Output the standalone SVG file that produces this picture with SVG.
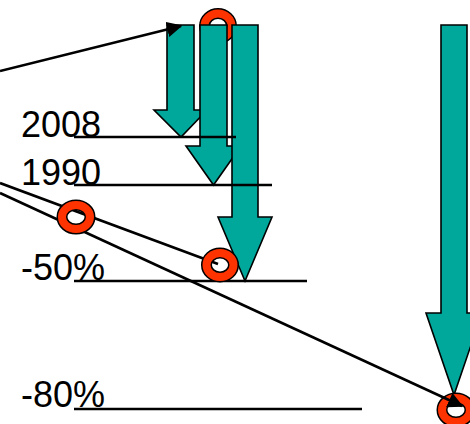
<svg xmlns="http://www.w3.org/2000/svg" width="470" height="424" viewBox="0 0 470 424">
<defs>
<marker id="ah" viewBox="0 0 10 10" refX="9" refY="5" markerWidth="6" markerHeight="6" orient="auto" markerUnits="strokeWidth">
<path d="M0,0 L10,5 L0,10 Z" fill="#000"/>
</marker>
</defs>
<style>
.arr{fill:#00A89C;stroke:#000;stroke-width:1.6;stroke-linejoin:miter}
.ringo{fill:none;stroke:#000;stroke-width:11}
.ringi{fill:none;stroke:#FF3300;stroke-width:8}
.ln{stroke:#000;stroke-width:2.6;fill:none}
.lbl{font-family:"Liberation Sans",Arial,sans-serif;font-size:36px;fill:#000}
</style>
<rect width="470" height="424" fill="#fff"/>
<g id="labels">
<text class="lbl" x="21" y="137">2008</text>
<text class="lbl" x="21" y="185">1990</text>
<text class="lbl" x="21" y="280">-50%</text>
<text class="lbl" x="21" y="407">-80%</text>
</g>
<g id="ring-top">
<ellipse class="ringo" cx="218" cy="26" rx="13.5" ry="12.5"/>
<ellipse class="ringi" cx="218" cy="26" rx="13.5" ry="12.5"/>
</g>
<g id="arrow-2008">
<path class="arr" d="M167,25 H194 V110 H207 L181,137 L154,110 H167 Z"/>
</g>
<g id="arrow-1990">
<path class="arr" d="M200,25 H227 V146 H241 L213.5,185 L186,146 H200 Z"/>
</g>
<g id="arrow-50">
<path class="arr" d="M232,25 H258 V217 H272 L245,281 L218,217 H232 Z"/>
</g>
<g id="arrow-80">
<path class="arr" d="M441,25 H467 V313 H482 L454,395 L426,313 H441 Z"/>
</g>
<g id="ring-c">
<ellipse class="ringo" cx="456" cy="410" rx="14" ry="12"/>
<ellipse class="ringi" cx="456" cy="410" rx="14" ry="12"/>
</g>
<g id="connectors">
<line class="ln" x1="74" y1="137" x2="236" y2="137"/>
<line class="ln" x1="74" y1="185" x2="272" y2="185"/>
<line class="ln" x1="74" y1="281" x2="307" y2="281"/>
<line class="ln" x1="74" y1="409" x2="362" y2="409"/>
<line class="ln" x1="0" y1="71" x2="181" y2="26" marker-end="url(#ah)"/>
<line class="ln" x1="0" y1="183" x2="218" y2="264"/>
<line class="ln" x1="0" y1="193" x2="462" y2="406" marker-end="url(#ah)"/>
</g>
<g id="ring-a">
<ellipse class="ringo" cx="76" cy="217" rx="14" ry="12"/>
<ellipse class="ringi" cx="76" cy="217" rx="14" ry="12"/>
</g>
<g id="ring-b">
<ellipse class="ringo" cx="220" cy="265" rx="13.5" ry="12"/>
<ellipse class="ringi" cx="220" cy="265" rx="13.5" ry="12"/>
</g>
</svg>
